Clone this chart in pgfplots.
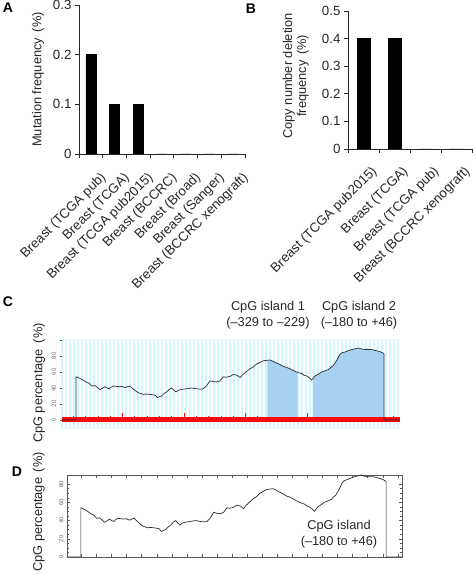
\documentclass[border=0pt]{standalone}
\usepackage{pgfplots}
\usepackage{pgfplotstable}
\pgfplotsset{compat=1.18}
\usepackage{fontspec}
\setmainfont{Liberation Sans}
\definecolor{cpgblue}{RGB}{166,209,242}
\definecolor{stripe}{RGB}{214,244,251}
\definecolor{curvec}{RGB}{45,45,45}
\definecolor{redbar}{RGB}{250,10,10}

\pgfplotstableread{
x y
-14 0
0 0
0 54
2 53
4 52
7 50
10.7 47
13 46
15.7 42.5
19 43
21 41
24 38
26 39.5
29 41.6
31 40
33.3 39
35 41
37.3 42.5
40 42
44 41.6
46 42
49 40.4
51 41.5
54 42.5
56 40
58 38
60 36
62.3 34
65 33
67.3 32
70 32.5
74 32
77 31.5
79 31
81.3 28
83 29
85.7 30
88 33
90.7 35
93 38
95.7 40
98 37
100 35
102 37
104.7 38
107 38.5
110.7 39
113 39.5
115.7 40
118 39.5
120.7 39
124 38.5
127.3 39
130.7 43
134 49
137 48
140.7 47.5
144 49
147.3 54
150 53.5
152.3 54
155 55
157.3 57
160.7 56
162 55
164 53
166 56
169 59
172 62
174 64
177 66
180.7 70
184 72
187.3 74
190 74.5
194 75
196 74
199 72
203 70
207.3 67
210 66
214 64
217 62
220.7 60
223 59
225.7 58
228 56
230.7 55
233 53
235.7 50
237 52
239 55
242 57
245.7 60
249 61.5
252.3 63
255 66
257.3 68
260 73
264 82
266 84
269 85
272 86.5
275.7 88
279 89
282.3 90
285 89
289 88
292 88
295.7 88
299 87
302.3 86
305 85
308 83
308 0
324 0
}\cpgdata

\pgfplotstableread{
x y
191.3 0
191.3 74.6
194 75
196 74
199 72
203 70
207.3 67
210 66
214 64
217 62
220.7 60
221.7 59.6
221.7 0
}\islandA

\pgfplotstableread{
x y
236.7 0
236.7 51.3
237 52
239 55
242 57
245.7 60
249 61.5
252.3 63
255 66
257.3 68
260 73
264 82
266 84
269 85
272 86.5
275.7 88
279 89
282.3 90
285 89
289 88
292 88
295.7 88
299 87
302.3 86
305 85
308 83
308 0
}\islandB

\begin{document}
\begin{tikzpicture}[x=1pt,y=1pt]
\useasboundingbox (0,0) rectangle (473,574);

% ---------------- Panel A ----------------
\begin{axis}[
  at={(79pt,420pt)}, anchor=south west, scale only axis,
  width=166pt, height=149pt,
  axis lines=left, axis line style={-, line width=0.8pt, draw=black!85},
  xmin=-0.5, xmax=6.5, ymin=0, ymax=0.3,
  ytick={0,0.1,0.2,0.3}, yticklabels={0,0.1,0.2,0.3},
  xtick={0,...,6},
  xticklabels={Breast (TCGA pub),Breast (TCGA),Breast (TCGA pub2015),Breast (BCCRC),Breast (Broad),Breast (Sanger),Breast (BCCRC xenograft)},
  major x tick style={draw=none},
  minor xtick={-0.5,0.5,...,6.5},
  tick align=outside, major tick length=4pt, minor tick length=4pt,
  tick style={black!85, line width=0.8pt},
  /pgf/number format/assume math mode=true,
  ticklabel style={font=\fontsize{13.3}{14}\selectfont, text=black!85},
  xticklabel style={rotate=45, anchor=north east, yshift=-12pt, xshift=0pt},
  ylabel={Mutation frequency\hspace{0.45em}(\%)},
  ylabel style={at={(axis description cs:-0.247,0.5)}, anchor=center, font=\fontsize{12.8}{14}\selectfont, text=black!85},
]
\addplot[ybar, fill=black, draw=black, bar width=10pt] coordinates {(0,0.2)(1,0.1)(2,0.1)(3,0)(4,0)(5,0)(6,0)};
\end{axis}

% ---------------- Panel B ----------------
\begin{axis}[
  at={(348pt,425pt)}, anchor=south west, scale only axis,
  width=124pt, height=138pt,
  axis lines=left, axis line style={-, line width=0.8pt, draw=black!85},
  xmin=-0.5, xmax=3.5, ymin=0, ymax=0.5,
  ytick={0,0.1,0.2,0.3,0.4,0.5}, yticklabels={0,0.1,0.2,0.3,0.4,0.5},
  xtick={0,...,3},
  xticklabels={Breast (TCGA pub2015),Breast (TCGA),Breast (TCGA pub),Breast (BCCRC xenograft)},
  major x tick style={draw=none},
  minor xtick={-0.5,0.5,...,3.5},
  tick align=outside, major tick length=4pt, minor tick length=4pt,
  tick style={black!85, line width=0.8pt},
  /pgf/number format/assume math mode=true,
  ticklabel style={font=\fontsize{13.3}{14}\selectfont, text=black!85},
  xticklabel style={rotate=45, anchor=north east, yshift=-10pt, xshift=0pt},
  ylabel={Copy number deletion\\frequency\hspace{0.45em}(\%)},
  ylabel style={at={(axis description cs:-0.42,0.53)}, anchor=center, align=center, font=\fontsize{12.8}{14}\selectfont, text=black!85},
]
\addplot[ybar, fill=black, draw=black, bar width=13pt] coordinates {(0,0.4)(1,0.4)(2,0)(3,0)};
\end{axis}

% ---------------- Panel C: background ----------------
\begin{axis}[
  at={(62pt,145pt)}, anchor=south west, scale only axis,
  width=338pt, height=90pt,
  xmin=-14, xmax=324, ymin=-11.25, ymax=101.25,
  axis line style={draw=none},
  xtick={-14,-10,...,322}, xmajorticks=false,
  xmajorgrids, x grid style={draw=stripe, line width=1.7pt},
  ytick={0,20,...,100}, yticklabels={0,20,40,60,80,{}},
  ytick pos=left, tick align=outside, major tick length=2.5pt,
  y tick style={black!70, line width=0.5pt},
  yticklabel style={rotate=90, anchor=south, font=\fontsize{6}{6}\selectfont, text=black!60},
  ylabel={CpG percentage\hspace{0.45em}(\%)},
  ylabel style={at={(axis description cs:-0.068,0.51)}, anchor=center, font=\fontsize{12.8}{14}\selectfont, text=black!85},
]
\end{axis}

% ---------------- Panel C: data ----------------
\begin{axis}[
  at={(62pt,154pt)}, anchor=south west, scale only axis,
  width=338pt, height=81pt,
  xmin=-14, xmax=324, ymin=0, ymax=101.25, clip=false,
  axis line style={draw=none},
  ytick=\empty,
  xtick={46.5,108,169.5,231,292.5},
  minor xtick={-2.7,9.6,21.9,34.2,58.8,71.1,83.4,95.7,120.3,132.6,144.9,157.2,181.8,194.1,206.4,218.7,243.3,255.6,267.9,280.2,304.8,317.1},
  xticklabels={}, xtick pos=bottom,
  tick align=inside, major tick length=6.5pt, minor tick length=4.2pt,
  tick style={redbar, line width=0.7pt},
]
\addplot[fill=cpgblue, draw=none] table {\islandA} \closedcycle;
\addplot[fill=cpgblue, draw=none] table {\islandB} \closedcycle;
\addplot[redbar, line width=5pt] coordinates {(-14,0) (324,0)};
\addplot[curvec, line width=0.7pt] table {\cpgdata};
\end{axis}

% ---------------- Panel D ----------------
\begin{axis}[
  at={(67pt,17pt)}, anchor=south west, scale only axis,
  width=335pt, height=82pt,
  xmin=-14, xmax=324, ymin=0, ymax=90,
  axis line style={draw=black!65, line width=0.7pt},
  xtick={0.6,15.8,...,320}, xticklabels={},
  ytick={0,20,...,80}, yticklabels={0,20,40,60,80},
  minor y tick num=3,
  tick align=inside, major tick length=3pt, minor tick length=1.6pt,
  tick style={black!65, line width=0.5pt},
  yticklabel style={rotate=90, anchor=south, font=\fontsize{6}{6}\selectfont, text=black!60},
  ylabel={CpG percentage\hspace{0.45em}(\%)},
  ylabel style={at={(axis description cs:-0.084,0.55)}, anchor=center, font=\fontsize{12.8}{14}\selectfont, text=black!85},
]
\addplot[curvec, line width=0.7pt] table {\cpgdata};
\end{axis}

% ---------------- Annotations ----------------
\node[align=center, font=\fontsize{12.8}{16}\selectfont, text=black!85] at (268,259) {CpG island 1\\(–329 to –229)};
\node[align=center, font=\fontsize{12.8}{16}\selectfont, text=black!85] at (359,259) {CpG island 2\\(–180 to +46)};
\node[align=center, font=\fontsize{12.8}{16}\selectfont, text=black!85] at (339,40) {CpG island\\(–180 to +46)};

\node[font=\fontsize{14}{14}\selectfont\bfseries] at (8,566) {A};
\node[font=\fontsize{14}{14}\selectfont\bfseries] at (251,565) {B};
\node[font=\fontsize{14}{14}\selectfont\bfseries] at (8,272) {C};
\node[font=\fontsize{14}{14}\selectfont\bfseries] at (17,102) {D};
\end{tikzpicture}
\end{document}
